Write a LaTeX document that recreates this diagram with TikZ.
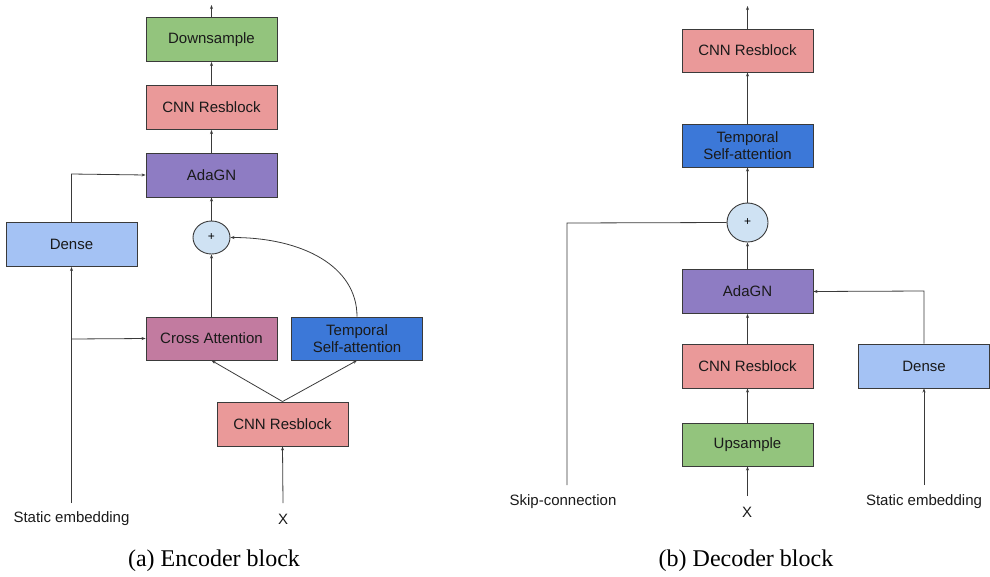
\documentclass[tikz,border=0pt]{standalone}
\usepackage{fontspec}
\setmainfont{Liberation Sans}
\newfontfamily\capfont{Liberation Serif}
\usetikzlibrary{arrows.meta,shapes.geometric}
\definecolor{cgreen}{HTML}{93C47D}
\definecolor{cpink}{HTML}{EA9999}
\definecolor{cpurple}{HTML}{8E7CC3}
\definecolor{clblue}{HTML}{A4C2F4}
\definecolor{cmag}{HTML}{C27BA0}
\definecolor{cblue}{HTML}{3C78D8}
\definecolor{cplus}{HTML}{CFE2F3}
\definecolor{cedge}{HTML}{3A3A3A}
\definecolor{ctext}{HTML}{1A1A1A}
\begin{document}
\begin{tikzpicture}[x=1pt,y=-1pt,
  blk/.style={draw=cedge,line width=0.9pt,minimum width=131pt,minimum height=44pt,inner sep=0pt,
    align=center,text=ctext,font=\fontsize{15}{17.5}\selectfont},
  plusnode/.style={ellipse,draw=cedge,line width=0.9pt,fill=cplus,inner sep=0pt,font=\fontsize{12}{14}\selectfont},
  lbl/.style={text=ctext,font=\fontsize{15}{18}\selectfont,inner sep=0pt},
  captxt/.style={font=\capfont\fontsize{24}{28}\selectfont,inner sep=0pt},
  arr/.style={draw=cedge,line width=0.8pt,-{Stealth[length=4pt,width=3pt]}},
  ln/.style={draw=cedge,line width=0.8pt}]
\useasboundingbox (0,0) rectangle (990,576);
% ---------------- Encoder ----------------
\node[blk,fill=cgreen] (down) at (211.5,39.5) {Downsample};
\node[blk,fill=cpink] (cnnA) at (211.5,107.5) {CNN Resblock};
\node[blk,fill=cpurple] (adaA) at (211.5,175) {AdaGN};
\node[blk,fill=clblue] (denseA) at (71.5,244.5) {Dense};
\node[plusnode,minimum width=37pt,minimum height=33pt] (plusA) at (211.5,237.5) {+};
\node[blk,fill=cmag,minimum height=43pt] (cross) at (211.5,338.5) {Cross Attention};
\node[blk,fill=cblue,minimum height=43pt] (tempA) at (357,338.5) {Temporal\\Self-attention};
\node[blk,fill=cpink] (cnnB) at (282.5,424) {CNN Resblock};
\node[lbl] (statA) at (71.5,519) {Static embedding};
\node[lbl] (xA) at (283,519) {X};
\node[captxt] (capA) at (214,561) {(a) Encoder block};
\coordinate (outA) at (211.5,5);
\coordinate (statAtop) at (71.5,503);
\coordinate (xAtop) at (283,503);
\coordinate (bendA) at (71.5,174);
\coordinate (branchA) at (71.5,339);

\draw[arr] (down.north) -- (outA);
\draw[arr] (cnnA.north) -- (down.south);
\draw[arr] (adaA.north) -- (cnnA.south);
\draw[arr] (plusA.north) -- (adaA.south);
\draw[arr] (cross.north) -- (plusA.south);
\draw[arr] (tempA.north) .. controls (357,266) and (302,237.5) .. (plusA.east);
\draw[arr] (cnnB.north) -- (cross.south);
\draw[arr] (cnnB.north) -- (tempA.south);
\draw[arr] (xAtop) -- (cnnB.south);
\draw[arr] (statAtop) -- (denseA.south);
\draw[arr] (branchA) -- (cross.west);
\draw[arr] (denseA.north) -- (bendA) -- (adaA.west);

% ---------------- Decoder ----------------
\node[blk,fill=cpink,minimum height=43pt] (dcnnT) at (747.5,50.5) {CNN Resblock};
\node[blk,fill=cblue,minimum height=43pt] (dtemp) at (747.5,145.5) {Temporal\\Self-attention};
\node[plusnode,minimum width=41pt,minimum height=39pt] (dplus) at (747.5,222.5) {+};
\node[blk,fill=cpurple] (dada) at (747.5,291.5) {AdaGN};
\node[blk,fill=cpink] (dcnn) at (747.5,366) {CNN Resblock};
\node[blk,fill=cgreen,minimum height=43pt] (dup) at (747.5,444.5) {Upsample};
\node[blk,fill=clblue] (ddense) at (924,366) {Dense};
\node[lbl] (skip) at (563,502) {Skip-connection};
\node[lbl] (statB) at (924,502) {Static embedding};
\node[lbl] (xB) at (747,512) {X};
\node[captxt] (capB) at (746,561) {(b) Decoder block};
\coordinate (outB) at (747.5,6);
\coordinate (skipTop) at (567,485);
\coordinate (skipBend) at (567,223);
\coordinate (statBtop) at (924,485);
\coordinate (xBtop) at (747.5,496);
\coordinate (bendB) at (924,291);

\draw[arr] (dcnnT.north) -- (outB);
\draw[arr] (dtemp.north) -- (dcnnT.south);
\draw[arr] (dplus.north) -- (dtemp.south);
\draw[arr] (dada.north) -- (dplus.south);
\draw[arr] (dcnn.north) -- (dada.south);
\draw[arr] (dup.north) -- (dcnn.south);
\draw[arr] (xBtop) -- (dup.south);
\draw[ln] (skipTop) -- (skipBend) -- (dplus.west);
\draw[arr] (statBtop) -- (ddense.south);
\draw[arr] (ddense.north) -- (bendB) -- (dada.east);
\end{tikzpicture}
\end{document}
